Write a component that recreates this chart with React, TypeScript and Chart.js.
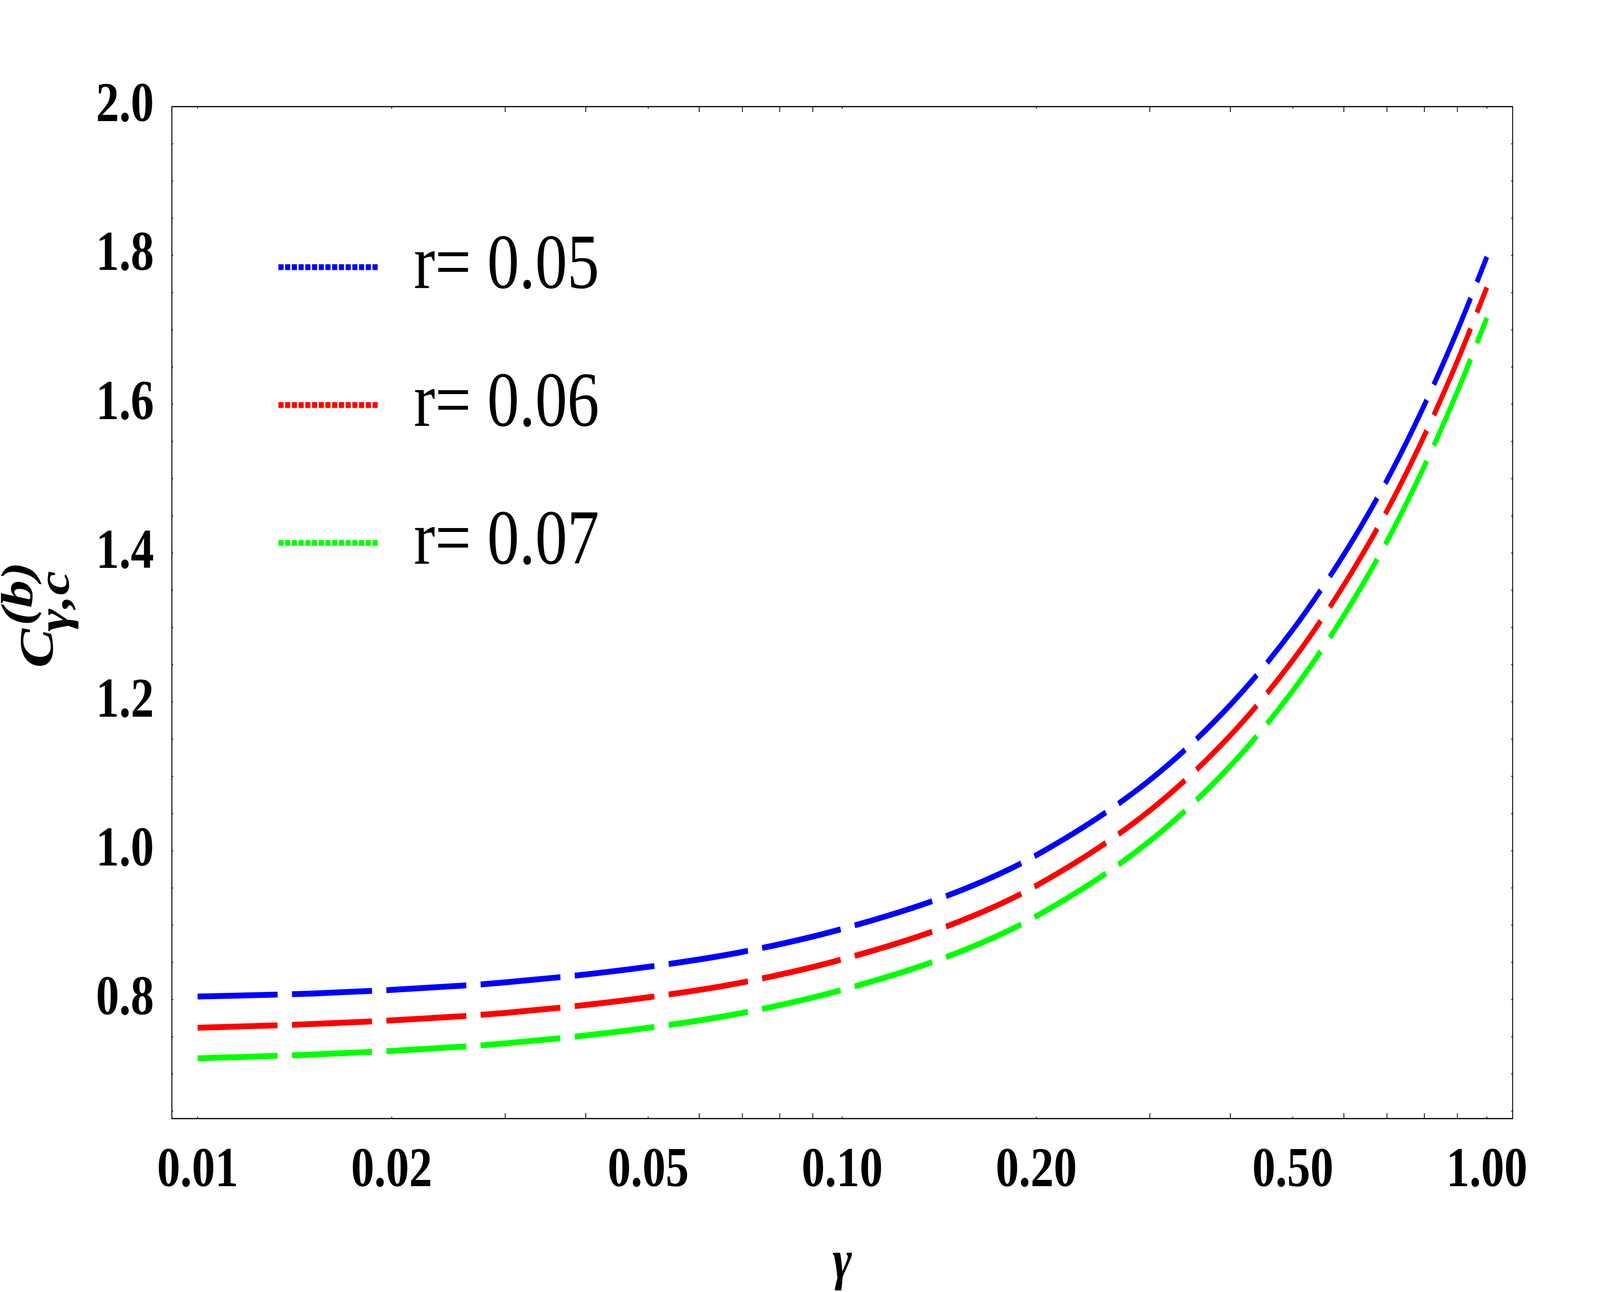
import React, { useEffect, useRef, useState } from "react";
import { Chart, registerables } from "chart.js";

Chart.register(...registerables);

// ---- data ----
const gammaValues = [0.01, 0.015, 0.02, 0.03, 0.05, 0.07, 0.1, 0.15, 0.2, 0.3, 0.4, 0.5, 0.6, 0.7, 0.8, 0.9, 1.0];
const seriesR005 = [0.804, 0.808, 0.813, 0.823, 0.844, 0.864, 0.895, 0.944, 0.994, 1.095, 1.196, 1.297, 1.398, 1.498, 1.599, 1.699, 1.798];
const seriesR006 = [0.762, 0.767, 0.772, 0.782, 0.803, 0.823, 0.854, 0.903, 0.953, 1.054, 1.155, 1.256, 1.357, 1.457, 1.558, 1.658, 1.757];
const seriesR007 = [0.721, 0.726, 0.731, 0.741, 0.762, 0.782, 0.813, 0.862, 0.912, 1.013, 1.114, 1.215, 1.316, 1.416, 1.517, 1.617, 1.716];
const seriesLabels = ["r= 0.05", "r= 0.06", "r= 0.07"];
const seriesColors = ["#0000ff", "#ff0000", "#00ff00"];

const xTickValues = [0.01, 0.02, 0.05, 0.1, 0.2, 0.5, 1.0];
const xTickLabels = ["0.01", "0.02", "0.05", "0.10", "0.20", "0.50", "1.00"];
const xMinorTickValues = [0.03, 0.04, 0.06, 0.07, 0.08, 0.09, 0.3, 0.4, 0.6, 0.7, 0.8, 0.9];
const yTickValues = [0.8, 1.0, 1.2, 1.4, 1.6, 1.8, 2.0];
const yTickLabels = ["0.8", "1.0", "1.2", "1.4", "1.6", "1.8", "2.0"];
const yMinorTickValues = [0.65, 0.7, 0.75, 0.8, 0.85, 0.9, 0.95, 1.0, 1.05, 1.1, 1.15, 1.2, 1.25, 1.3, 1.35, 1.4, 1.45, 1.5, 1.55, 1.6, 1.65, 1.7, 1.75, 1.8, 1.85, 1.9, 1.95];

const X_MIN = 0.00912;
const X_MAX = 1.0965;
const Y_MIN = 0.64;
const Y_MAX = 2.0;

const W = 5000;
const H = 3308;
const SERIF = '"Liberation Serif", "Times New Roman", serif';

const allSeries = [seriesR005, seriesR006, seriesR007];

const framePlugin = {
  id: "framePlugin",
  beforeDraw(chart: any) {
    const ctx = chart.ctx;
    ctx.save();
    ctx.fillStyle = "#ffffff";
    ctx.fillRect(0, 0, chart.width, chart.height);
    ctx.restore();
  },
  afterDraw(chart: any) {
    const ctx = chart.ctx;
    const a = chart.chartArea;
    const xs = chart.scales.x;
    const ys = chart.scales.y;
    ctx.save();
    // frame
    ctx.strokeStyle = "#000";
    ctx.lineWidth = 3;
    ctx.setLineDash([]);
    ctx.strokeRect(a.left, a.top, a.right - a.left, a.bottom - a.top);

    // x ticks (bottom & top, inward)
    ctx.lineWidth = 2.5;
    const drawX = (v: number, len: number) => {
      const px = xs.getPixelForValue(v);
      ctx.beginPath();
      ctx.moveTo(px, a.bottom);
      ctx.lineTo(px, a.bottom - len);
      ctx.moveTo(px, a.top);
      ctx.lineTo(px, a.top + len);
      ctx.stroke();
    };
    xTickValues.forEach((v) => drawX(v, 5));
    xMinorTickValues.forEach((v) => drawX(v, 14));
    // y ticks (left & right, inward)
    yMinorTickValues.forEach((v) => {
      const py = ys.getPixelForValue(v);
      ctx.beginPath();
      ctx.moveTo(a.left, py);
      ctx.lineTo(a.left + 4, py);
      ctx.moveTo(a.right, py);
      ctx.lineTo(a.right - 4, py);
      ctx.stroke();
    });

    // legend
    const legX0 = 870;
    const legX1 = 1185;
    const legTextX = 1293;
    const legY0 = 684;
    const legDy = 353;
    ctx.lineCap = "butt";
    seriesLabels.forEach((label, i) => {
      const y = legY0 + i * legDy;
      ctx.strokeStyle = seriesColors[i];
      ctx.lineWidth = 15;
      ctx.setLineDash([16, 5]);
      ctx.beginPath();
      ctx.moveTo(legX0, y);
      ctx.lineTo(legX1, y);
      ctx.stroke();
      ctx.setLineDash([]);
      ctx.fillStyle = "#000";
      ctx.font = `200px ${SERIF}`;
      ctx.textAlign = "left";
      ctx.textBaseline = "middle";
      ctx.fillText(label, legTextX, y);
    });

    // x axis title
    ctx.fillStyle = "#000";
    ctx.font = `italic bold 145px ${SERIF}`;
    ctx.textAlign = "center";
    ctx.textBaseline = "alphabetic";
    ctx.fillText("γ", (a.left + a.right) / 2, 3273);

    // y axis title C^(b)_{γ,c}
    ctx.save();
    ctx.translate(165, 1710);
    ctx.rotate(-Math.PI / 2);
    ctx.textAlign = "left";
    ctx.textBaseline = "alphabetic";
    ctx.font = `italic bold 150px ${SERIF}`;
    ctx.fillText("C", 0, 0);
    ctx.font = `italic bold 140px ${SERIF}`;
    ctx.fillText("(b)", 108, -65);
    ctx.fillText("γ,c", 93, 50);
    ctx.restore();

    ctx.restore();
  },
};

export default function App() {
  const ref = useRef<HTMLCanvasElement>(null);
  const [vp] = useState(() => ({
    w: typeof window !== "undefined" ? window.innerWidth || W : W,
    h: typeof window !== "undefined" ? window.innerHeight || H : H,
  }));

  useEffect(() => {
    if (!ref.current) return;
    const datasets = allSeries.map((s, i) => ({
      label: seriesLabels[i],
      data: gammaValues.map((g, k) => ({ x: g, y: s[k] })),
      borderColor: seriesColors[i],
      backgroundColor: seriesColors[i],
      borderWidth: 15,
      borderDash: [250, 45],
      borderCapStyle: "butt" as const,
      pointRadius: 0,
      fill: false,
      cubicInterpolationMode: "monotone" as const,
    }));

    const chart = new Chart(ref.current, {
      type: "line",
      data: { datasets },
      options: {
        responsive: false,
        devicePixelRatio: 1,
        animation: false,
        layout: { padding: { top: 273, right: 273, left: 0, bottom: 0 } },
        plugins: {
          legend: { display: false },
          tooltip: { enabled: false },
        },
        scales: {
          x: {
            type: "logarithmic",
            min: X_MIN,
            max: X_MAX,
            grid: { display: false, drawTicks: false },
            border: { display: false },
            afterBuildTicks: (scale: any) => {
              scale.ticks = xTickValues.map((v) => ({ value: v }));
            },
            afterFit: (scale: any) => {
              scale.height = H - 2864;
            },
            ticks: {
              autoSkip: false,
              maxRotation: 0,
              minRotation: 0,
              padding: 49,
              color: "#000",
              font: { family: SERIF, size: 145, weight: "bold" },
              callback: (value: any) => {
                const idx = xTickValues.findIndex((v) => Math.abs(v - Number(value)) < 1e-9);
                return idx >= 0 ? xTickLabels[idx] : "";
              },
            },
          },
          y: {
            type: "linear",
            min: Y_MIN,
            max: Y_MAX,
            grid: { display: false, drawTicks: false },
            border: { display: false },
            afterBuildTicks: (scale: any) => {
              scale.ticks = yTickValues.map((v) => ({ value: v }));
            },
            afterFit: (scale: any) => {
              scale.width = 537;
            },
            ticks: {
              autoSkip: false,
              padding: 56,
              color: "#000",
              font: { family: SERIF, size: 145, weight: "bold" },
              callback: (value: any) => {
                const idx = yTickValues.findIndex((v) => Math.abs(v - Number(value)) < 1e-9);
                return idx >= 0 ? yTickLabels[idx] : "";
              },
            },
          },
        },
      },
      plugins: [framePlugin],
    });
    return () => chart.destroy();
  }, []);

  return (
    <div
      style={{
        position: "fixed",
        left: 0,
        top: 0,
        width: vp.w,
        height: vp.h,
        background: "#fff",
        overflow: "hidden",
      }}
    >
      <canvas ref={ref} width={W} height={H} style={{ width: vp.w, height: vp.h, display: "block" }} />
    </div>
  );
}
